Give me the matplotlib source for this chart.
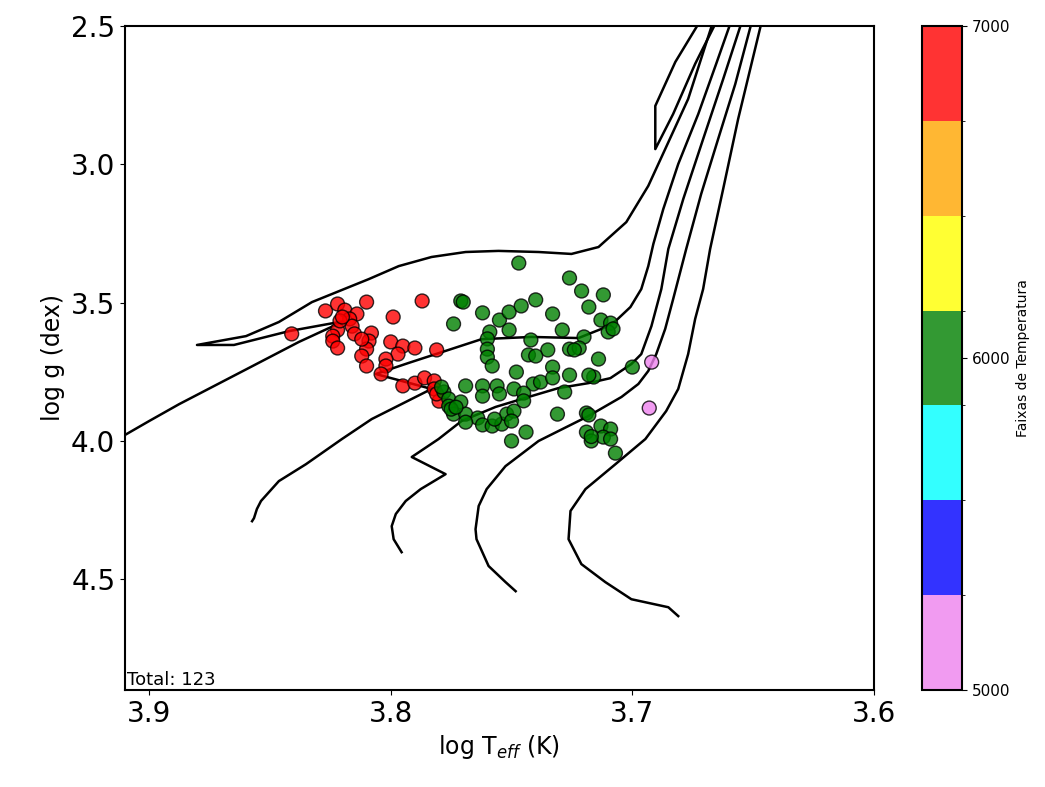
import numpy as np
import matplotlib.pyplot as plt
from matplotlib.colors import ListedColormap, BoundaryNorm

# estrelas da amostra, separadas por faixa de temperatura
red_logt = [3.841, 3.827, 3.822, 3.819, 3.814, 3.817, 3.816, 3.822, 3.824, 3.824,
            3.822, 3.815, 3.810, 3.808, 3.809, 3.810, 3.812, 3.810, 3.799, 3.800,
            3.795, 3.797, 3.802, 3.802, 3.804, 3.790, 3.787, 3.781, 3.795, 3.790,
            3.786, 3.782, 3.782, 3.780, 3.781, 3.821, 3.820, 3.812]
red_logg = [3.613, 3.530, 3.505, 3.527, 3.541, 3.559, 3.585, 3.599, 3.621, 3.639,
            3.664, 3.613, 3.498, 3.610, 3.639, 3.668, 3.693, 3.729, 3.552, 3.642,
            3.657, 3.686, 3.704, 3.729, 3.758, 3.664, 3.494, 3.671, 3.801, 3.791,
            3.772, 3.783, 3.812, 3.856, 3.830, 3.566, 3.552, 3.632]

green_logt = [3.747, 3.771, 3.770, 3.762, 3.774, 3.755, 3.751, 3.746, 3.740, 3.733,
              3.759, 3.751, 3.760, 3.760, 3.742, 3.735, 3.743, 3.740, 3.729, 3.726,
              3.721, 3.712, 3.718, 3.713, 3.709, 3.710, 3.720, 3.726, 3.722, 3.714,
              3.760, 3.758, 3.748, 3.733, 3.726, 3.716, 3.718, 3.700, 3.769, 3.762,
              3.756, 3.755, 3.749, 3.741, 3.738, 3.733, 3.728, 3.762, 3.778, 3.776,
              3.776, 3.771, 3.774, 3.769, 3.764, 3.769, 3.762, 3.758, 3.754, 3.752,
              3.749, 3.750, 3.744, 3.750, 3.731, 3.719, 3.718, 3.713, 3.719, 3.709,
              3.717, 3.712, 3.709, 3.707, 3.745, 3.745, 3.779, 3.775, 3.773, 3.757,
              3.708, 3.724, 3.717]
green_logg = [3.357, 3.494, 3.498, 3.537, 3.577, 3.563, 3.534, 3.512, 3.490, 3.541,
              3.606, 3.599, 3.631, 3.668, 3.635, 3.671, 3.689, 3.693, 3.599, 3.411,
              3.458, 3.472, 3.516, 3.563, 3.574, 3.606, 3.624, 3.668, 3.664, 3.704,
              3.697, 3.729, 3.751, 3.733, 3.762, 3.769, 3.762, 3.733, 3.801, 3.801,
              3.801, 3.830, 3.812, 3.794, 3.787, 3.772, 3.823, 3.838, 3.823, 3.848,
              3.874, 3.859, 3.903, 3.903, 3.917, 3.932, 3.942, 3.946, 3.939, 3.903,
              3.892, 3.928, 3.968, 4.000, 3.903, 3.899, 3.906, 3.946, 3.968, 3.957,
              4.000, 3.986, 3.993, 4.044, 3.827, 3.855, 3.805, 3.885, 3.878, 3.921,
              3.595, 3.671, 3.984]

violet_logt = [3.692, 3.693]
violet_logg = [3.715, 3.881]

band_temp = {'red': 6900, 'green': 6000, 'violet': 5100}

# trajetorias evolutivas
trk1_logt = [3.9165, 3.900, 3.8876, 3.8587, 3.838, 3.8194, 3.8421, 3.8649, 3.8802,
             3.8599, 3.8463, 3.8326, 3.8091, 3.7967, 3.7831, 3.7690, 3.7554, 3.7388,
             3.7252, 3.7140, 3.7025, 3.6934, 3.6864, 3.6769, 3.6669]
trk1_logg = [4.011, 3.928, 3.867, 3.736, 3.642, 3.567, 3.603, 3.653, 3.653,
             3.621, 3.570, 3.498, 3.415, 3.368, 3.335, 3.317, 3.313, 3.317,
             3.324, 3.299, 3.209, 3.078, 2.945, 2.764, 2.493]

loop_logt = [3.6727, 3.6822, 3.6905, 3.6905, 3.6831, 3.6740, 3.6657]
loop_logg = [2.493, 2.630, 2.789, 2.945, 2.818, 2.637, 2.493]

trk2_logt = [3.8574, 3.8566, 3.8554, 3.8537, 3.8463, 3.8351, 3.8202, 3.8079, 3.7831,
             3.8062, 3.7926, 3.7789, 3.7624, 3.7417, 3.7223, 3.7128, 3.7070, 3.7008,
             3.6963, 3.6934, 3.6913, 3.6872, 3.6810, 3.6727, 3.6653, 3.6595]
trk2_logg = [4.290, 4.279, 4.246, 4.217, 4.145, 4.084, 3.993, 3.921, 3.812,
             3.758, 3.718, 3.679, 3.632, 3.624, 3.628, 3.595, 3.567, 3.516,
             3.451, 3.368, 3.288, 3.162, 2.999, 2.818, 2.637, 2.493]

trk3_logt = [3.7955, 3.7988, 3.7996, 3.7979, 3.7938, 3.7876, 3.7773, 3.7913, 3.7802,
             3.7707, 3.7566, 3.7430, 3.7306, 3.7182, 3.7091, 3.7004, 3.6963, 3.6921,
             3.6880, 3.6851, 3.6789, 3.6707, 3.6624, 3.6550]
trk3_logg = [4.402, 4.355, 4.308, 4.264, 4.217, 4.174, 4.120, 4.058, 3.993,
             3.928, 3.877, 3.841, 3.809, 3.791, 3.773, 3.722, 3.686, 3.585,
             3.451, 3.306, 3.125, 2.909, 2.692, 2.493]

trk4_logt = [3.7483, 3.7525, 3.7595, 3.7645, 3.7649, 3.7636, 3.7603, 3.7525, 3.7388,
             3.7182, 3.7045, 3.6975, 3.6934, 3.6901, 3.6864, 3.6831, 3.6777, 3.6715,
             3.6645, 3.6574, 3.6508]
trk4_logg = [4.543, 4.510, 4.452, 4.355, 4.319, 4.235, 4.174, 4.091, 4.000,
             3.910, 3.841, 3.794, 3.747, 3.686, 3.595, 3.487, 3.306, 3.107,
             2.909, 2.710, 2.493]

trk5_logt = [3.681, 3.6851, 3.7004, 3.7112, 3.7211, 3.7264, 3.7256, 3.7194, 3.7070,
             3.6946, 3.6860, 3.6810, 3.6769, 3.6740, 3.6707, 3.6678, 3.6624, 3.6562,
             3.6467]
trk5_logg = [4.633, 4.601, 4.572, 4.510, 4.445, 4.355, 4.253, 4.174, 4.084,
             3.993, 3.892, 3.812, 3.686, 3.559, 3.451, 3.306, 3.089, 2.836,
             2.493]

tracks = [(trk1_logt, trk1_logg), (loop_logt, loop_logg), (trk2_logt, trk2_logg),
          (trk3_logt, trk3_logg), (trk4_logt, trk4_logg), (trk5_logt, trk5_logg)]

logt = np.array(red_logt + green_logt + violet_logt)
logg = np.array(red_logg + green_logg + violet_logg)
teff = np.array([band_temp['red']] * len(red_logt) + [band_temp['green']] * len(green_logt)
                + [band_temp['violet']] * len(violet_logt))

cores = ['violet', 'blue', 'cyan', 'green', 'yellow', 'orange', 'red']
cmap = ListedColormap(cores)
norm = BoundaryNorm(np.linspace(5000, 7000, len(cores) + 1), cmap.N)

fig = plt.figure(figsize=(10.45, 7.87), dpi=100)
ax = fig.add_axes([0.1196, 0.1233, 0.7167, 0.8437])
cax = fig.add_axes([0.8823, 0.1233, 0.0383, 0.8437])

for tx, ty in tracks:
    ax.plot(tx, ty, color='black', lw=1.8)

sc = ax.scatter(logt, logg, c=teff, cmap=cmap, norm=norm, s=100, alpha=0.8,
                edgecolors='black', linewidths=1, zorder=3)

ax.set_xlim(3.91, 3.6)
ax.set_ylim(4.9, 2.5)
ax.set_xticks([3.9, 3.8, 3.7, 3.6])
ax.set_yticks([2.5, 3.0, 3.5, 4.0, 4.5])
ax.tick_params(labelsize=20)
ax.set_xlabel(r'log T$_{eff}$ (K)', fontsize=17)
ax.set_ylabel('log g (dex)', fontsize=17)
for sp in ax.spines.values():
    sp.set_linewidth(1.5)
ax.text(0.003, 0.002, f'Total: {len(logt)}', transform=ax.transAxes,
        fontsize=13, ha='left', va='bottom')

cb = fig.colorbar(sc, cax=cax, ticks=[5000, 6000, 7000])
cb.set_label('Faixas de Temperatura', fontsize=10)
cb.ax.tick_params(labelsize=11)
cb.outline.set_linewidth(1.5)

plt.savefig('out.png', dpi=100)
